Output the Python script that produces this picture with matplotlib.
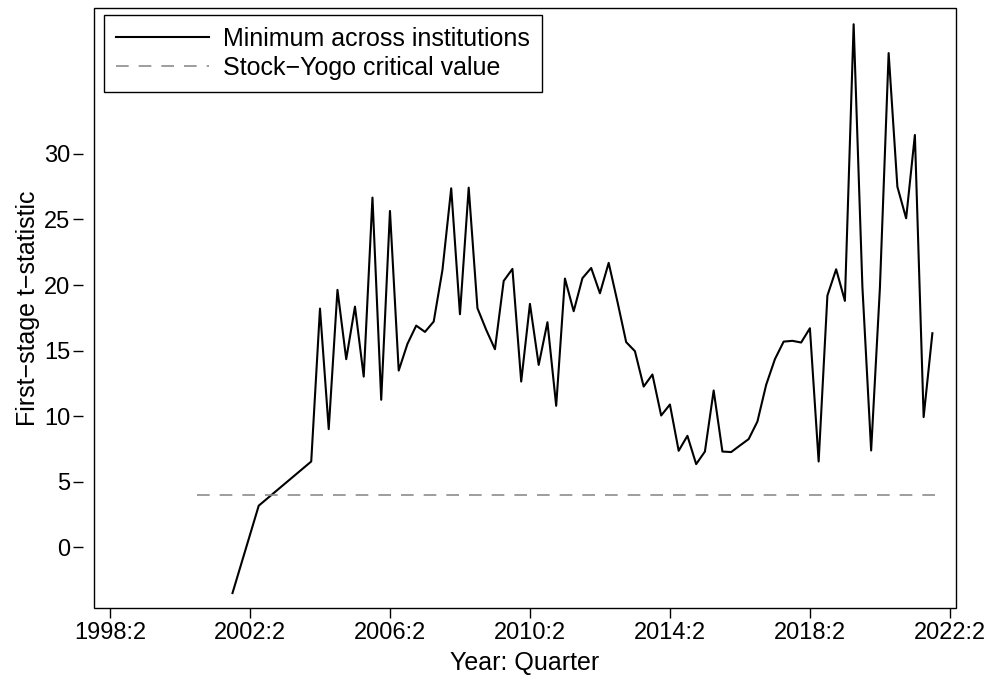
import numpy as np
import pandas as pd
import matplotlib
matplotlib.use('Agg')
import matplotlib.pyplot as plt

plt.rcParams['font.family'] = ['Liberation Sans', 'DejaVu Sans']

# first two isolated observations, then an unbroken quarterly run 2004:1 - 2021:4
early_quarters = ['2001:4', '2002:3']
early_values = [-3.51, 3.16]

run_start, run_end = '2004Q1', '2021Q4'
run_values = [
    6.53, 18.2, 9.0, 19.63, 14.34, 18.35, 13.01, 26.67, 11.24, 25.65,
    13.47, 15.51, 16.9, 16.42, 17.21, 21.15, 27.38, 17.77, 27.43, 18.23,
    16.58, 15.1, 20.31, 21.23, 12.63, 18.56, 13.9, 17.16, 10.78, 20.49,
    18.0, 20.52, 21.3, 19.37, 21.69, 18.73, 15.64, 14.95, 12.25, 13.17,
    10.04, 10.88, 7.35, 8.49, 6.33, 7.29, 11.95, 7.29, 7.25, 7.75,
    8.24, 9.58, 12.38, 14.34, 15.68, 15.74, 15.61, 16.7, 6.53, 19.19,
    21.2, 18.79, 39.9, 19.88, 7.37, 19.75, 37.7, 27.5, 25.09, 31.45,
    9.92, 16.32,
]

crit_value = 3.97
crit_span = ['2000:4', '2022:1']

tick_labels = ['1998:2', '2002:2', '2006:2', '2010:2', '2014:2', '2018:2', '2022:2']
y_ticks = [0, 5, 10, 15, 20, 25, 30]


def qidx(s):
    # quarters counted from 1998:2
    y, q = s.split(':')
    return (int(y) - 1998) * 4 + int(q) - 2


run_quarters = [f'{p.year}:{p.quarter}' for p in pd.period_range(run_start, run_end, freq='Q')]
quarters = early_quarters + run_quarters
values = early_values + run_values
x = np.array([qidx(s) for s in quarters])

W, H = 991, 679
fig = plt.figure(figsize=(W / 100, H / 100), dpi=100)
ax = fig.add_axes([94 / W, 1 - 608 / H, (956 - 94) / W, (608 - 8) / H])

ax.plot(x, values, color='black', lw=1.5, label='Minimum across institutions')
ax.plot([qidx(crit_span[0]), qidx(crit_span[1])], [crit_value, crit_value],
        color='#8c8c8c', lw=1.2, dashes=(7.6, 6.0), label='Stock\u2212Yogo critical value')

ax.set_xlim(-1.83, 96.7)
ax.set_ylim(-4.65, 41.14)
ax.set_xticks([qidx(t) for t in tick_labels])
ax.set_xticklabels(tick_labels)
ax.set_yticks(y_ticks)
ax.set_yticklabels([str(v) for v in y_ticks])

# box drawn by the patch; left ticks detached from the frame like the original
for s in ax.spines.values():
    s.set_visible(False)
ax.patch.set_edgecolor('black')
ax.patch.set_linewidth(1.0)
ax.spines['left'].set_position(('outward', 8))
ax.tick_params(axis='both', direction='out', length=7, width=1, labelsize=17, colors='black')
ax.tick_params(axis='y', pad=2)
ax.tick_params(axis='x', pad=3)

ax.set_xlabel('Year: Quarter', fontsize=18, labelpad=5)
ax.set_ylabel('First\u2212stage t\u2212statistic', fontsize=18, labelpad=3)

leg = ax.legend(loc='upper left', bbox_to_anchor=(104 / W, 1 - 15 / H),
                bbox_transform=fig.transFigure, borderaxespad=0,
                fontsize=18, frameon=True, fancybox=False,
                edgecolor='black', framealpha=1,
                handlelength=3.7, handletextpad=0.58, borderpad=0.48, labelspacing=0.19)
leg.get_frame().set_linewidth(1.0)

fig.savefig('out.png', dpi=100)
